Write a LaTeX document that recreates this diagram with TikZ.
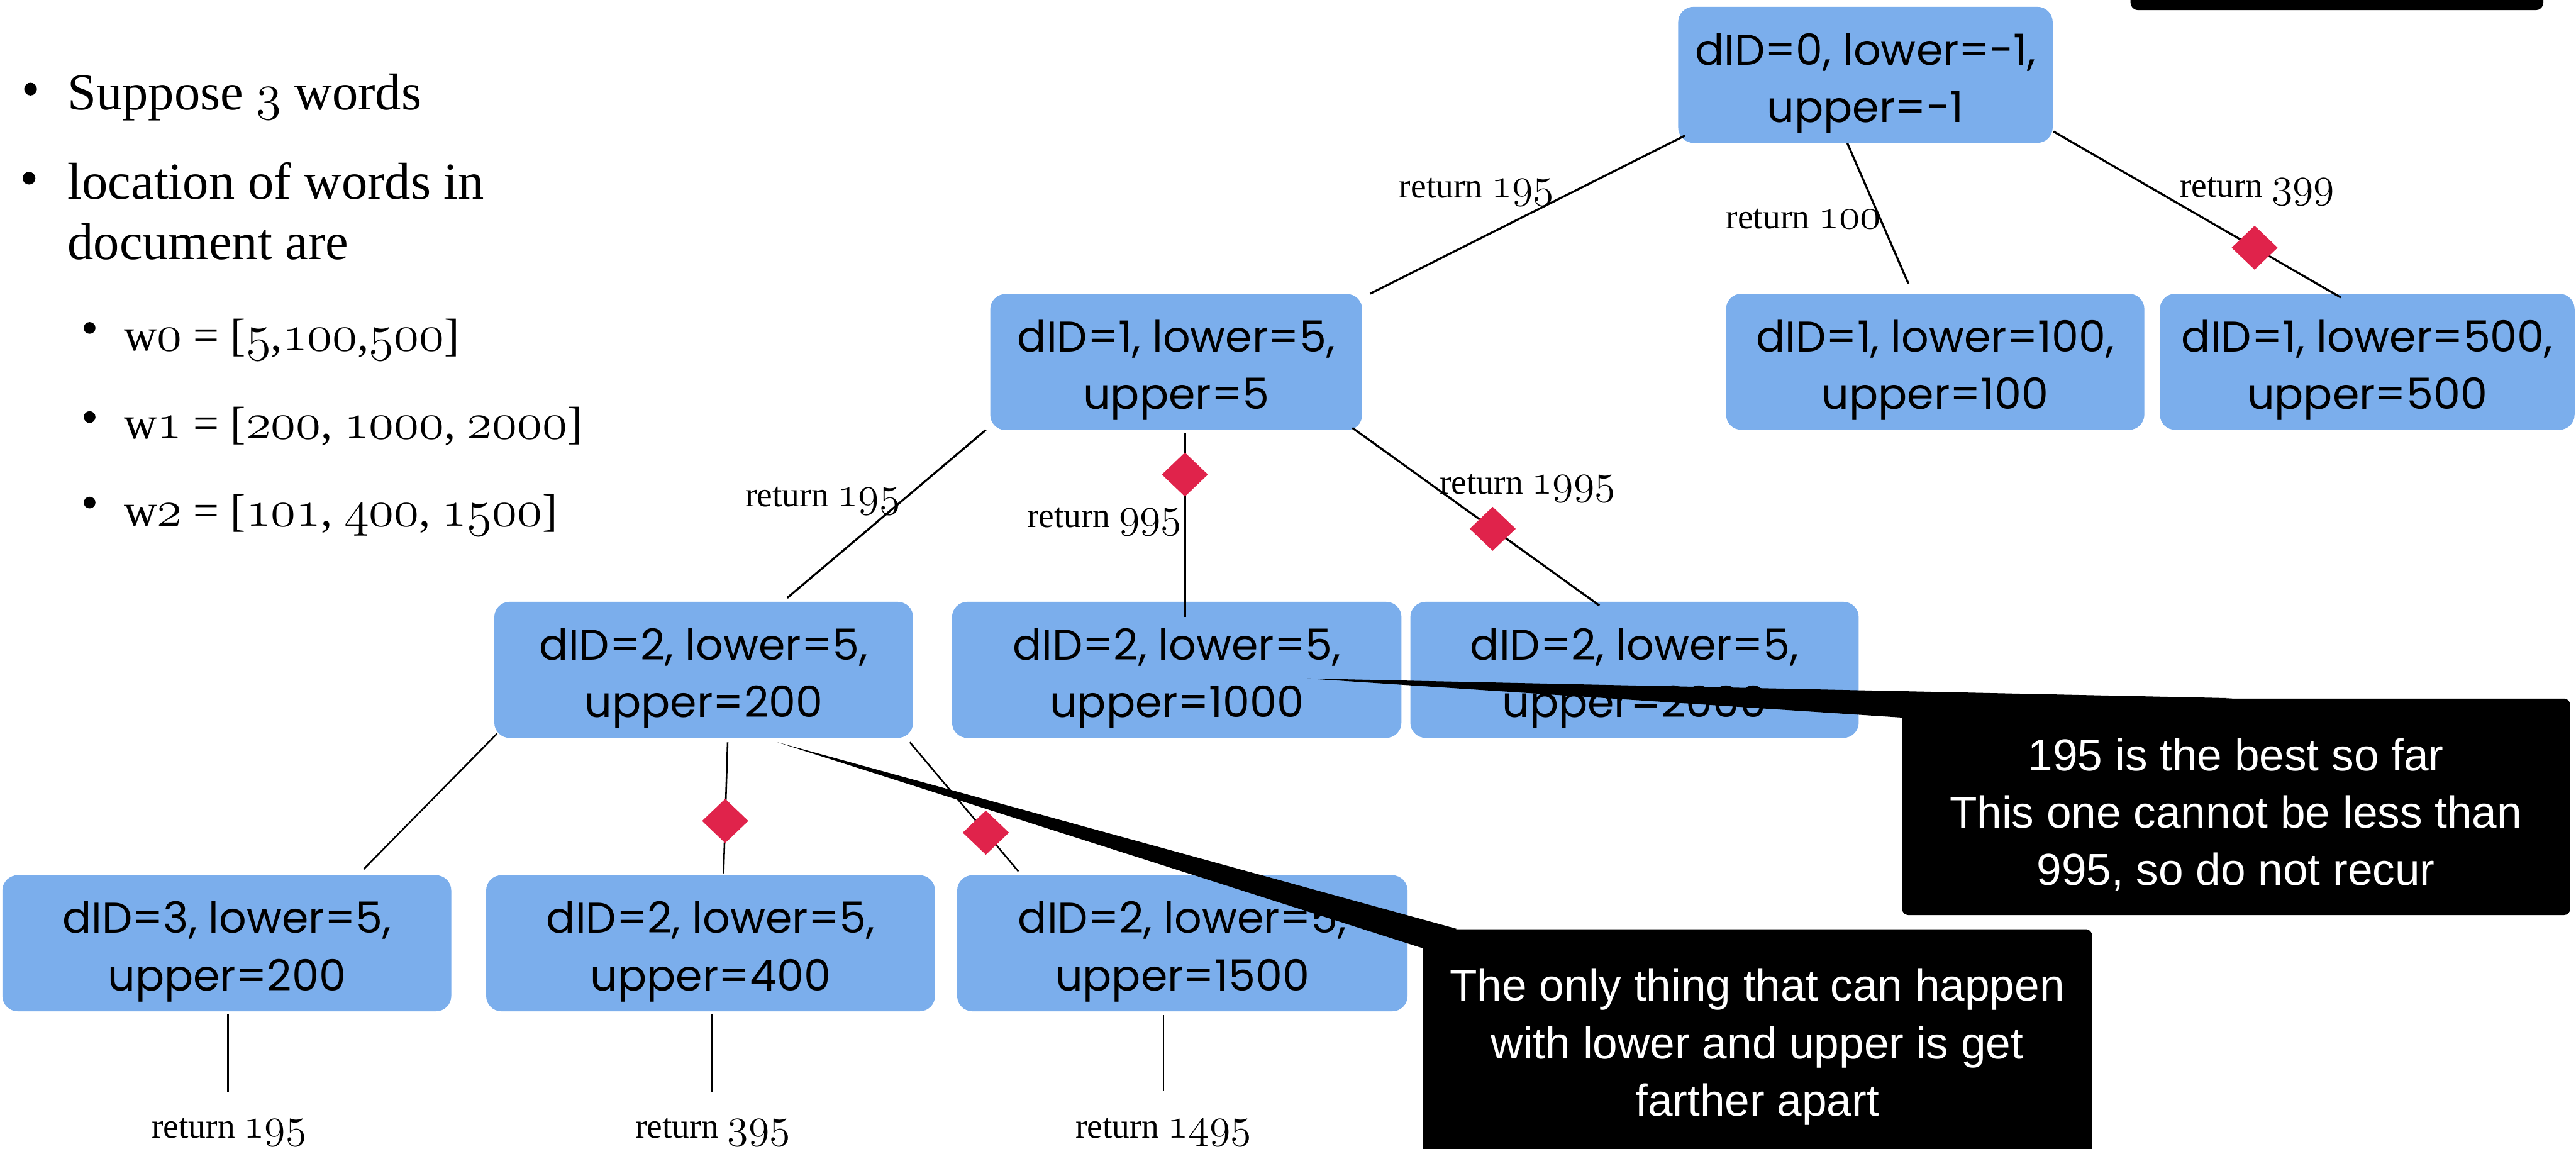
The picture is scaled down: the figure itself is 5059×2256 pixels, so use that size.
\documentclass[tikz,border=0pt]{standalone}
\usepackage{graphicx}
\usepackage{fontspec}
\setmainfont{Liberation Serif}
\newfontfamily\boxfont{Poppins}
\newfontfamily\callfont{Liberation Sans}
\usetikzlibrary{shapes.geometric,calc}
\definecolor{nodeblue}{HTML}{7BAEEC}
\definecolor{cutred}{HTML}{E0234B}
\newcommand\osn[1]{\scalebox{1.15}{\usefont{OML}{cmm}{m}{it}#1}}
\newcommand\tstrut{\rule{0pt}{27pt}}
\begin{document}
\begin{tikzpicture}[x=0.01cm,y=-0.01cm,
  box/.style={fill=nodeblue, rounded corners=0.3cm, minimum height=2.67cm, align=center, inner sep=0pt, font=\boxfont\fontsize{24}{32}\selectfont},
  conn/.style={line width=1.15pt},
  leaf/.style={line width=0.9pt},
  cut/.style={diamond, fill=cutred, inner sep=0pt, minimum width=0.92cm, minimum height=0.88cm},
  lbl/.style={anchor=base, inner sep=0pt, font=\fontsize{19.5}{24}\selectfont},
  callbox/.style={fill=black, rounded corners=0.12cm, inner sep=0pt},
  calltext/.style={text=white, align=center, inner sep=0pt, font=\callfont\fontsize{25}{32}\selectfont},
  bul/.style={anchor=base west, inner sep=0pt, font=\fontsize{29}{34}\selectfont},
  subbul/.style={anchor=base west, inner sep=0pt, font=\fontsize{25.5}{32}\selectfont}]
\useasboundingbox (0,0) rectangle (5059,2256);

% top cut-off box
\fill[rounded corners=0.15cm] (4184,-60) rectangle (4995,20);

% bullets
\fill (60,175) circle[radius=0.125cm];
\fill (57,350) circle[radius=0.125cm];
\fill (176,644) circle[radius=0.115cm];
\fill (176,819) circle[radius=0.115cm];
\fill (176,987) circle[radius=0.115cm];
\node[bul] (t1) at (132,216) {Suppose \osn{3} words};
\node[bul] (t2) at (132,391) {location of words in};
\node[bul] (t3) at (132,509) {document are};
\node[subbul] (t4) at (243,688) {w\osn{0} = [\osn{5},\osn{100},\osn{500}]};
\node[subbul] (t5) at (243,861) {w\osn{1} = [\osn{200}, \osn{1000}, \osn{2000}]};
\node[subbul] (t6) at (243,1033) {w\osn{2} = [\osn{101}, \osn{400}, \osn{1500}]};

% tree nodes
\node[box, minimum width=7.35cm] (n0) at (3663.5,147) {\tstrut dID=0, lower=-1,\\upper=-1};
\node[box, minimum width=7.30cm] (n1) at (2310,711) {\tstrut dID=1, lower=5,\\upper=5};
\node[box, minimum width=8.21cm] (n2) at (3800.5,710.5) {\tstrut dID=1, lower=100,\\upper=100};
\node[box, minimum width=8.14cm] (n3) at (4649,710.5) {\tstrut dID=1, lower=500,\\upper=500};
\node[box, minimum width=8.22cm] (n4) at (1382,1315.5) {\tstrut dID=2, lower=5,\\upper=200};
\node[box, minimum width=8.82cm] (n5) at (2311,1315.5) {\tstrut dID=2, lower=5,\\upper=1000};
\node[box, minimum width=8.80cm] (n6) at (3210,1315.5) {\tstrut dID=2, lower=5,\\upper=2000};
\node[box, minimum width=8.81cm] (n7) at (445.5,1852.5) {\tstrut dID=3, lower=5,\\upper=200};
\node[box, minimum width=8.81cm] (n8) at (1395.5,1852.5) {\tstrut dID=2, lower=5,\\upper=400};
\node[box, minimum width=8.84cm] (n9) at (2322,1852.5) {\tstrut dID=2, lower=5,\\upper=1500};

% edge labels
\node[lbl] (l01) at (2900,388) {return \osn{195}};
\node[lbl] (l02) at (3542,449) {return \osn{100}};
\node[lbl] (l03) at (4433,387) {return \osn{399}};
\node[lbl] (l14) at (1616,995) {return \osn{195}};
\node[lbl] (l15) at (2169,1035) {return \osn{995}};
\node[lbl] (l16) at (3000,970) {return \osn{1995}};
\node[lbl] (r7) at (450,2235) {return \osn{195}};
\node[lbl] (r8) at (1400,2235) {return \osn{395}};
\node[lbl] (r9) at (2285,2235) {return \osn{1495}};

% connectors
\draw[conn] ([shift={(14,-15)}]n0.south west) -- ([shift={(15,0)}]n1.north east);
\draw[conn] ([shift={(-35.5,0)}]n0.south) -- ([shift={(-52.5,-19)}]n2.north);
\draw[conn] ([shift={(1,-23)}]n0.south east) -- node[cut, pos=0.70] (d03) {} ([shift={(356,8)}]n3.north west);
\draw[conn] ([shift={(-8,-1)}]n1.south west) -- ([shift={(164,-7)}]n4.north);
\draw[conn] ([shift={(17,6)}]n1.south) -- node[cut, pos=0.224] (d15) {} ([shift={(16,30)}]n5.north);
\draw[conn] ([shift={(-20,-5)}]n1.south east) -- node[cut, pos=0.568] (d16) {} ([shift={(-69,8)}]n6.north);
\draw[leaf] ([shift={(6,-9)}]n4.south west) -- ([shift={(268.5,-11)}]n7.north);
\draw[leaf] ([shift={(47,8)}]n4.south) -- node[cut, pos=0.60] (d48) {} ([shift={(25.5,-3)}]n8.north);
\draw[leaf] ([shift={(-7,8)}]n4.south east) -- node[cut, pos=0.70] (d49) {} ([shift={(-322,-7)}]n9.north);
\draw[leaf] ([shift={(2.5,4)}]n7.south) -- ([shift={(-2,-52)}]r7.north);
\draw[leaf] ([shift={(2.5,4)}]n8.south) -- ([shift={(-2,-52)}]r8.north);
\draw[leaf] ([shift={(-37,7)}]n9.south) -- ([shift={(0,-54)}]r9.north);

% callouts
\node[callbox, minimum width=13.11cm, minimum height=4.25cm] (c1box) at (4391.5,1584.5) {};
\fill ([shift={(256,17)}]n5.center) -- ([shift={(649,0)}]c1box.north west) -- ([shift={(0,38)}]c1box.north west) -- cycle;
\node[calltext] (c1) at (4391,1600) {195 is the best so far\\This one cannot be less than\\995, so do not recur};

\node[callbox, minimum width=13.13cm, minimum height=4.8cm] (c2box) at (3451.5,2065) {};
\fill ([shift={(145,8)}]n4.south) -- ([shift={(67,0)}]c2box.north west) -- ([shift={(0,38)}]c2box.north west) -- cycle;
\node[calltext] (c2) at (3451,2056) {The only thing that can happen\\with lower and upper is get\\farther apart};
\end{tikzpicture}
\end{document}
